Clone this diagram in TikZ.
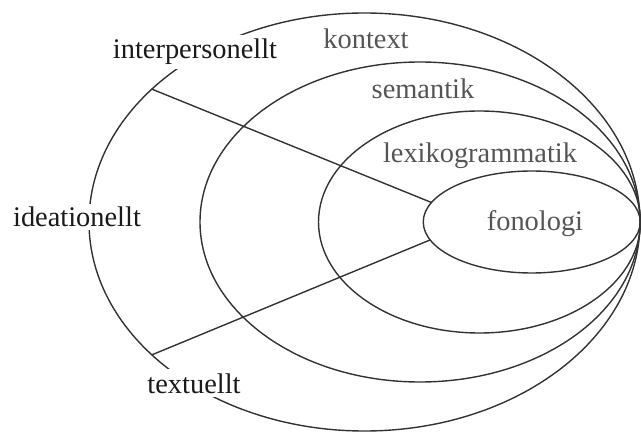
\documentclass[tikz,border=0pt]{standalone}
\usepackage{fontspec}
\setmainfont{Liberation Serif}
\usetikzlibrary{shapes.geometric}
\definecolor{linegray}{HTML}{333333}
\definecolor{labelgray}{HTML}{555555}
\definecolor{labelblack}{HTML}{1A1A1A}
\begin{document}
\begin{tikzpicture}[x=0.5pt,y=-0.5pt,
  ring/.style={ellipse, draw=linegray, line width=0.7pt, inner sep=0pt, outer sep=0pt},
  lbl/.style={anchor=base, font=\fontsize{14.2}{17}\selectfont},
  outerlabel/.style={lbl, fill=white, inner sep=2pt, text=labelblack},
  innerlabel/.style={lbl, inner sep=0pt, text=labelgray},
  link/.style={draw=linegray, line width=0.7pt}]
\useasboundingbox (0,0) rectangle (641,432);
\node[ring, minimum width=275.5pt, minimum height=209pt] (kontextring) at (364.5,222) {};
\node[ring, minimum width=220pt, minimum height=160pt] (semring) at (420,222) {};
\node[ring, minimum width=161pt, minimum height=111pt] (lexring) at (479.5,222) {};
\node[ring, minimum width=108.5pt, minimum height=51pt] (fonring) at (531.75,222) {};
\draw[link] (kontextring.148) -- (fonring.169);
\draw[link] (kontextring.212) -- (fonring.190);
\node[outerlabel] (inter) at (195,59) {interpersonellt};
\node[outerlabel, inner sep=1.5pt] (idea) at (77,227) {ideationellt};
\node[outerlabel] (text) at (194,393) {textuellt};
\node[innerlabel] (kontext) at (366,49) {kontext};
\node[innerlabel] (sem) at (423,99) {semantik};
\node[innerlabel] (lex) at (480,163) {lexikogrammatik};
\node[innerlabel] (fon) at (535,231) {fonologi};
\end{tikzpicture}
\end{document}
